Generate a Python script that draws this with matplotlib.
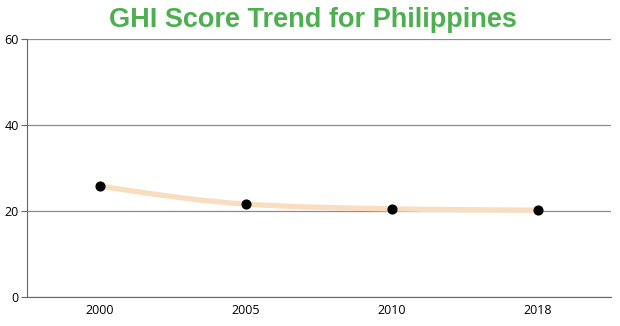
import numpy as np
import matplotlib
matplotlib.use("Agg")
import matplotlib.pyplot as plt
from matplotlib.path import Path
from matplotlib.patches import PathPatch

years = ["2000", "2005", "2010", "2018"]
scores = [25.8, 21.6, 20.5, 20.2]
y_ticks = [0, 20, 40, 60]


def monotone_path(x, y):
    # d3-style monotoneX curve as cubic bezier segments
    x = np.asarray(x, float)
    y = np.asarray(y, float)
    n = len(x)
    h = np.diff(x)
    s = np.diff(y) / h
    t = np.zeros(n)
    for i in range(1, n - 1):
        if s[i - 1] * s[i] <= 0:
            t[i] = 0
        else:
            p = (s[i - 1] * h[i] + s[i] * h[i - 1]) / (h[i - 1] + h[i])
            t[i] = (np.sign(s[i - 1]) + np.sign(s[i])) * min(abs(s[i - 1]), abs(s[i]), 0.5 * abs(p))
    t[0] = (3 * s[0] - t[1]) / 2 if n > 2 else s[0]
    t[-1] = (3 * s[-1] - t[-2]) / 2 if n > 2 else s[-1]
    verts = [(x[0], y[0])]
    codes = [Path.MOVETO]
    for i in range(n - 1):
        dx = h[i] / 3
        verts += [(x[i] + dx, y[i] + dx * t[i]),
                  (x[i + 1] - dx, y[i + 1] - dx * t[i + 1]),
                  (x[i + 1], y[i + 1])]
        codes += [Path.CURVE4] * 3
    return Path(verts, codes)


fig = plt.figure(figsize=(6.2, 3.26), dpi=100)
ax = fig.add_axes([27 / 620, 29 / 326, 584 / 620, 258 / 326])

xs = np.arange(len(years))
ax.add_patch(PathPatch(monotone_path(xs, scores), facecolor="none",
                       edgecolor="#F9DDBF", lw=3.8, capstyle="round", zorder=2))
ax.plot(xs, scores, "o", color="black", markersize=6.3, zorder=3)

ax.set_xlim(-0.5, len(years) - 0.5)
ax.set_ylim(0, 60)
ax.set_xticks(xs)
ax.set_xticklabels(years, family="Open Sans")
ax.set_yticks(y_ticks)
ax.set_yticklabels([str(v) for v in y_ticks], family="Open Sans")
ax.grid(axis="y", color="#8c8c8c", lw=0.9)
ax.set_axisbelow(True)

for side in ["top", "right"]:
    ax.spines[side].set_visible(False)
ax.spines["left"].set_color("#666666")
ax.spines["bottom"].set_color("#666666")
ax.tick_params(axis="x", length=0, pad=5, labelsize=9)
ax.tick_params(axis="y", length=4, color="#666666", pad=2, labelsize=9)

fig.suptitle("GHI Score Trend for Philippines", x=0.504, y=0.98, fontsize=19.5,
             fontweight="bold", color="#4CAF50", family="Liberation Sans")

fig.savefig("out.png", dpi=100)
